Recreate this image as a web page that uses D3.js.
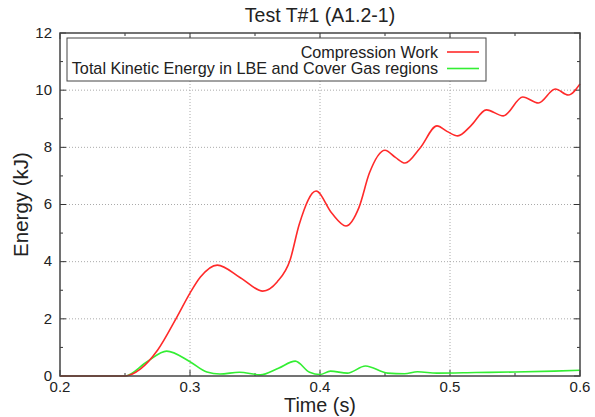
<!DOCTYPE html>
<html>
<head>
<meta charset="utf-8">
<script src="https://cdn.jsdelivr.net/npm/d3@7"></script>
<style>
  body { margin: 0; background: #fff; }
  svg { font-family: "Liberation Sans", Arial, sans-serif; }
</style>
</head>
<body>
<div id="chart"></div>
<script>
// Compression Work (kJ) vs time (s)
const workTime = [0.2, 0.25, 0.262, 0.275, 0.29, 0.3, 0.308, 0.321, 0.339, 0.356, 0.367,
  0.377, 0.384, 0.397, 0.409, 0.42, 0.43, 0.438, 0.45, 0.458, 0.4654, 0.477, 0.49, 0.498,
  0.506, 0.516, 0.528, 0.541, 0.556, 0.568, 0.581, 0.591, 0.6];
const workEnergy = [0, 0, 0.25, 0.9, 2.07, 2.9, 3.46, 3.88, 3.43, 2.97, 3.29,
  4.06, 5.3, 6.47, 5.7, 5.25, 5.9, 7.1, 7.9, 7.65, 7.45, 7.98, 8.75, 8.55,
  8.4, 8.75, 9.31, 9.1, 9.76, 9.55, 10.04, 9.83, 10.22];

// Total Kinetic Energy in LBE and Cover Gas regions (kJ)
const keTime = [0.2, 0.25, 0.267, 0.282, 0.3, 0.313, 0.323, 0.338, 0.354, 0.368, 0.381, 0.392,
  0.4, 0.408, 0.421, 0.435, 0.452, 0.465, 0.475, 0.49, 0.52, 0.55, 0.58, 0.6];
const keEnergy = [0, 0, 0.5, 0.87, 0.5, 0.14, 0.07, 0.13, 0.04, 0.27, 0.52, 0.13,
  0.05, 0.17, 0.1, 0.35, 0.1, 0.08, 0.15, 0.1, 0.12, 0.14, 0.17, 0.2];

const xTicks = [0.2, 0.3, 0.4, 0.5, 0.6];
const xMinor = [0.25, 0.35, 0.45, 0.55];
const yTicks = [0, 2, 4, 6, 8, 10, 12];
const yMinor = [1, 3, 5, 7, 9, 11];

const W = 595, H = 417;
const margin = { top: 33, right: 15, bottom: 41, left: 60 };
const width = W - margin.left - margin.right;
const height = H - margin.top - margin.bottom;

const svg = d3.select("#chart").append("svg")
  .attr("width", W).attr("height", H);

const xScale = d3.scaleLinear().domain([0.2, 0.6]).range([0, width]);
const yScale = d3.scaleLinear().domain([0, 12]).range([height, 0]);

const g = svg.append("g")
  .attr("transform", `translate(${margin.left},${margin.top})`);

// grid
g.append("g").selectAll("line").data(xTicks.slice(1, -1)).join("line")
  .attr("x1", d => xScale(d)).attr("x2", d => xScale(d))
  .attr("y1", 0).attr("y2", height)
  .attr("stroke", "#aaa").attr("stroke-width", 1).attr("stroke-dasharray", "1,2");
g.append("g").selectAll("line").data(yTicks.slice(1, -1)).join("line")
  .attr("x1", 0).attr("x2", width)
  .attr("y1", d => yScale(d)).attr("y2", d => yScale(d))
  .attr("stroke", "#aaa").attr("stroke-width", 1).attr("stroke-dasharray", "1,2");

// ticks inside on all four sides
const tickCol = "#333";
function ticks(vals, len, cls) {
  const t = g.append("g").attr("class", cls);
  vals.forEach(v => {
    t.append("line").attr("x1", xScale(v)).attr("x2", xScale(v)).attr("y1", height).attr("y2", height - len);
    t.append("line").attr("x1", xScale(v)).attr("x2", xScale(v)).attr("y1", 0).attr("y2", len);
  });
  t.selectAll("line").attr("stroke", tickCol).attr("stroke-width", 1);
}
function yticks(vals, len, cls) {
  const t = g.append("g").attr("class", cls);
  vals.forEach(v => {
    t.append("line").attr("x1", 0).attr("x2", len).attr("y1", yScale(v)).attr("y2", yScale(v));
    t.append("line").attr("x1", width).attr("x2", width - len).attr("y1", yScale(v)).attr("y2", yScale(v));
  });
  t.selectAll("line").attr("stroke", tickCol).attr("stroke-width", 1);
}
ticks(xTicks, 6, "xmajor");
ticks(xMinor, 3, "xminor");
yticks(yTicks, 6, "ymajor");
yticks(yMinor, 3, "yminor");

// tick labels
g.append("g").selectAll("text").data(xTicks).join("text")
  .attr("x", d => xScale(d)).attr("y", height + 16)
  .attr("text-anchor", "middle").attr("font-size", 15).attr("fill", "#222")
  .text(d => d3.format(".1f")(d));
g.append("g").selectAll("text").data(yTicks).join("text")
  .attr("x", -8).attr("y", d => yScale(d)).attr("dy", "0.32em")
  .attr("text-anchor", "end").attr("font-size", 15).attr("fill", "#222")
  .text(d => d);

// curves
const line = d3.line()
  .curve(d3.curveMonotoneX)
  .x(d => xScale(d[0]))
  .y(d => yScale(d[1]));

const workData = workTime.map((t, i) => [t, workEnergy[i]]);
const keData = keTime.map((t, i) => [t, keEnergy[i]]);

g.append("path").datum(keData)
  .attr("d", line).attr("fill", "none")
  .attr("stroke", "#33ee33").attr("stroke-width", 1.6);
g.append("path").datum(workData)
  .attr("d", line).attr("fill", "none")
  .attr("stroke", "#ff2a2a").attr("stroke-width", 1.6);

// frame
g.append("rect").attr("x", 0).attr("y", 0).attr("width", width).attr("height", height)
  .attr("fill", "none").attr("stroke", "#444").attr("stroke-width", 1.5);

// legend
const legend = svg.append("g");
legend.append("rect").attr("x", 67).attr("y", 38).attr("width", 419).attr("height", 43)
  .attr("fill", "#fff").attr("stroke", "#444").attr("stroke-width", 1);
const legendItems = [
  { name: "Compression Work", color: "#ff2a2a" },
  { name: "Total Kinetic Energy in LBE and Cover Gas regions", color: "#33ee33" }
];
legendItems.forEach((d, i) => {
  const y = 52 + i * 16.5;
  legend.append("text").attr("x", 438).attr("y", y).attr("dy", "0.36em")
    .attr("text-anchor", "end").attr("font-size", 16.2).attr("fill", "#222").text(d.name);
  legend.append("line").attr("x1", 447).attr("x2", 479).attr("y1", y).attr("y2", y)
    .attr("stroke", d.color).attr("stroke-width", 1.6);
});

// titles
svg.append("text").attr("x", margin.left + width / 2).attr("y", 22)
  .attr("text-anchor", "middle").attr("font-size", 19.5).attr("fill", "#222")
  .text("Test T#1 (A1.2-1)");
svg.append("text").attr("x", margin.left + width / 2).attr("y", 412)
  .attr("text-anchor", "middle").attr("font-size", 19.8).attr("fill", "#222")
  .text("Time (s)");
svg.append("text").attr("transform", `translate(28,${margin.top + height / 2}) rotate(-90)`)
  .attr("text-anchor", "middle").attr("font-size", 20.5).attr("fill", "#222")
  .text("Energy (kJ)");
</script>
</body>
</html>
